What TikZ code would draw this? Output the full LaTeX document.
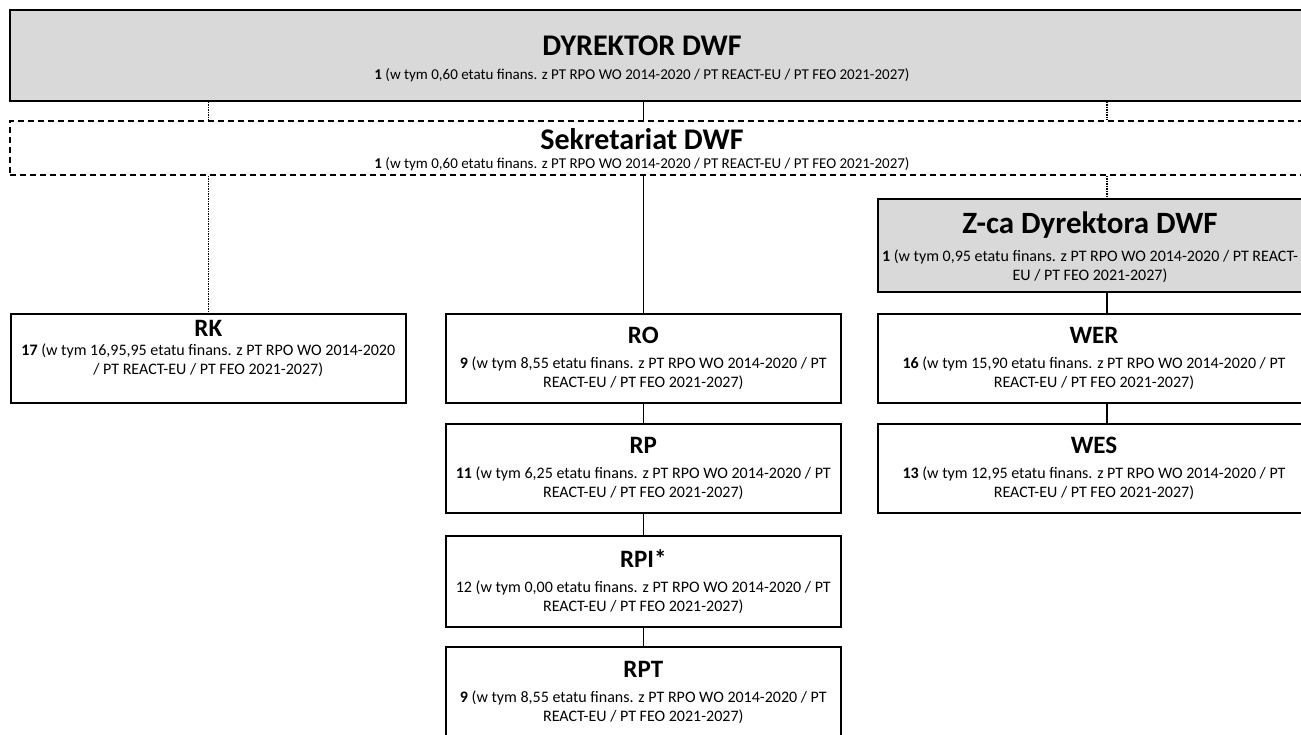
\documentclass[tikz,border=0pt]{standalone}
\usepackage{fontspec}
\setmainfont{Carlito}
\usetikzlibrary{positioning}

\begin{document}
\begin{tikzpicture}[x=1pt, y=-1pt,
    every node/.style={font=\fontsize{16}{19}\selectfont, align=center},
    unitbox/.style={draw, line width=1.6pt, inner sep=0pt, anchor=north west},
    greybox/.style={unitbox, fill=gray!30},
    dashbox/.style={unitbox, dash pattern=on 6pt off 4pt},
    bigtitle/.style={font=\fontsize{30}{34}\selectfont\bfseries},
    link/.style={line width=1.6pt},
    dotlink/.style={line width=1.5pt, densely dotted}]
			\useasboundingbox (0,0) rectangle (1301,734);
			\clip (0,0) rectangle (1301,734);

			% Top level
			\node[greybox, minimum width=1330pt, minimum height=91pt] (dyr) at (9,9) {};
			\node[bigtitle, anchor=base] (dyrtitle) at (642,55) {DYREKTOR DWF};
			\node[font=\fontsize{15}{18}\selectfont, anchor=base] (dyrtxt) at (642,79) {\textbf{1} (w tym 0,60 etatu finans. z PT RPO WO 2014-2020 / PT REACT-EU / PT FEO 2021-2027)};

			\node[dashbox, minimum width=1330pt, minimum height=54pt] (sek) at (9,120) {};
			\node[bigtitle, anchor=base] (sektitle) at (642,149) {Sekretariat DWF};
			\node[font=\fontsize{15}{18}\selectfont, anchor=base] (sektxt) at (642,168.5) {\textbf{1} (w tym 0,60 etatu finans. z PT RPO WO 2014-2020 / PT REACT-EU / PT FEO 2021-2027)};

			% Deputy director
			\node[greybox, minimum width=458pt, minimum height=93pt] (zca) at (877,198) {};
			\node[bigtitle, font=\fontsize{31}{35}\selectfont\bfseries, anchor=base] (zcatitle) at (1090,233) {Z-ca Dyrektora DWF};
			\node[anchor=center] (zcatxt) at (1090,266) {\textbf{1} (w tym 0,95 etatu finans. z PT RPO WO 2014-2020 / PT REACT-\\EU / PT FEO 2021-2027)};

			% Units
			\node[unitbox, minimum width=395pt, minimum height=89pt] (rk) at (10,313) {{\fontsize{25}{28}\selectfont\bfseries RK}\\[0pt] \textbf{17} (w tym 16,95,95 etatu finans. z PT RPO WO 2014-2020\\/ PT REACT-EU / PT FEO 2021-2027)\\[3pt]\mbox{}};
			\node[unitbox, minimum width=395pt, minimum height=89pt] (ro) at (445,313) {{\fontsize{25}{28}\selectfont\bfseries RO}\\[6pt] \textbf{9} (w tym 8,55 etatu finans. z PT RPO WO 2014-2020 / PT\\REACT-EU / PT FEO 2021-2027)};
			\node[unitbox, minimum width=395pt, minimum height=89pt] (rp) at (445,423) {{\fontsize{25}{28}\selectfont\bfseries RP}\\[6pt] \textbf{11} (w tym 6,25 etatu finans. z PT RPO WO 2014-2020 / PT\\REACT-EU / PT FEO 2021-2027)};
			\node[unitbox, minimum width=395pt, minimum height=91pt] (rpi) at (445,535) {{\fontsize{25}{28}\selectfont\bfseries RPI*}\\[6pt] 12 (w tym 0,00 etatu finans. z PT RPO WO 2014-2020 / PT\\REACT-EU / PT FEO 2021-2027)};
			\node[unitbox, minimum width=395pt, minimum height=91pt] (rpt) at (445,646) {{\fontsize{25}{28}\selectfont\bfseries RPT}\\[6pt] \textbf{9} (w tym 8,55 etatu finans. z PT RPO WO 2014-2020 / PT\\REACT-EU / PT FEO 2021-2027)};

			\node[unitbox, minimum width=458pt, minimum height=89pt] (wer) at (877,313) {};
			\node[anchor=center] (wertxt) at (1094,358) {{\fontsize{25}{28}\selectfont\bfseries WER}\\[6pt] \textbf{16} (w tym 15,90 etatu finans. z PT RPO WO 2014-2020 / PT\\REACT-EU / PT FEO 2021-2027)};
			\node[unitbox, minimum width=458pt, minimum height=89pt] (wes) at (877,423) {};
			\node[anchor=center] (westxt) at (1094,468) {{\fontsize{25}{28}\selectfont\bfseries WES}\\[6pt] \textbf{13} (w tym 12,95 etatu finans. z PT RPO WO 2014-2020 / PT\\REACT-EU / PT FEO 2021-2027)};

			% Connectors
			\draw[dotlink] (dyr.south -| rk.north) -- (sek.north -| rk.north);
			\draw[link] (dyr.south -| ro.north) -- (sek.north -| ro.north);
			\draw[dotlink] (dyr.south -| zca.north) -- (sek.north -| zca.north);
			\draw[dotlink] (sek.south -| rk.north) -- (rk);
			\draw[link] (sek.south -| ro.north) -- (ro);
			\draw[dotlink] (sek.south -| zca.north) -- (zca);
			\draw[link] (ro) -- (rp);
			\draw[link] (rp) -- (rpi);
			\draw[link] (rpi) -- (rpt);
			\draw[link] (zca) -- (wer);
			\draw[link] (wer) -- (wes);
\end{tikzpicture}
\end{document}
